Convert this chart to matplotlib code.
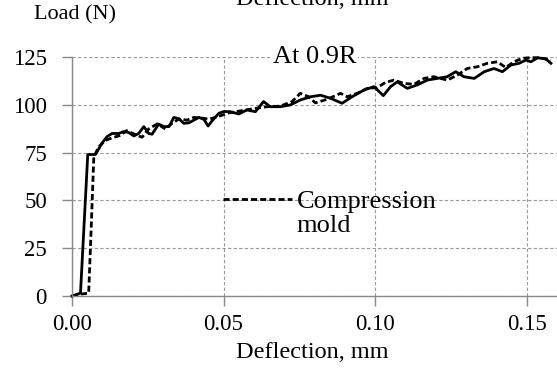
import matplotlib
matplotlib.use("Agg")
import matplotlib.pyplot as plt
from matplotlib.lines import Line2D

plt.rcParams['font.family'] = ['Liberation Serif', 'DejaVu Serif']

# solid curve (first specimen)
x_solid = [0, 0.0028, 0.0052, 0.0077, 0.0083, 0.0099, 0.0116, 0.0132, 0.0154, 0.0171,
           0.0187, 0.0204, 0.022, 0.0237, 0.0253, 0.0264, 0.0286, 0.0303, 0.032, 0.0336,
           0.0352, 0.0369, 0.0386, 0.0402, 0.0419, 0.0435, 0.0449, 0.0463, 0.0485, 0.0501,
           0.0522, 0.055, 0.0577, 0.0605, 0.0632, 0.0654, 0.0687, 0.072, 0.0753, 0.0787,
           0.082, 0.0853, 0.0891, 0.0924, 0.0963, 0.0996, 0.1027, 0.1051, 0.1073, 0.1106,
           0.1139, 0.1172, 0.1205, 0.1238, 0.1266, 0.1293, 0.1327, 0.136, 0.1392, 0.142,
           0.1448, 0.1475, 0.1497, 0.1514, 0.1536, 0.1563, 0.158]
y_solid = [0, 1.5, 74, 74, 75.5, 80, 83.4, 85, 85, 86,
           85.5, 83.7, 85, 88.6, 85, 84.6, 89.9, 88.6, 88.6, 93.4,
           92.8, 90.3, 90.6, 92, 93.4, 92.4, 88.9, 91.8, 95.6, 96.5,
           96.4, 95.2, 97.3, 96.4, 101.7, 99, 99, 99.9, 102.5, 104.2,
           105, 103.4, 100.8, 104.2, 107.7, 109.5, 104.8, 109.5, 112, 108.6,
           110.4, 112.9, 113.8, 114.7, 117.3, 114.7, 113.8, 117.3, 119, 117.3,
           120.8, 121.7, 123.4, 122.5, 124.6, 124, 121.7]

# dashed curve (compression mold)
x_dash = [0, 0.003, 0.0055, 0.0062, 0.0072, 0.0079, 0.0088, 0.011, 0.0138, 0.016,
          0.018, 0.0204, 0.0231, 0.0253, 0.0281, 0.0308, 0.033, 0.0352, 0.038, 0.0402,
          0.043, 0.0452, 0.0485, 0.0518, 0.0555, 0.06, 0.0643, 0.0687, 0.0726, 0.0753,
          0.0781, 0.0803, 0.0842, 0.0886, 0.0908, 0.0941, 0.0974, 0.1007, 0.1034, 0.1062,
          0.1095, 0.1128, 0.1161, 0.1194, 0.1238, 0.1271, 0.1304, 0.1337, 0.137, 0.1403,
          0.1431, 0.1458, 0.1486, 0.1514, 0.1547, 0.158]
y_dash = [0, 1, 1.5, 30, 73, 75, 78, 81.4, 83, 84,
          86.5, 84.8, 83, 87.4, 90, 87.4, 90.3, 92.5, 92, 93.4,
          93, 92.5, 94, 95.8, 96.8, 98, 99, 99.3, 101.7, 106,
          104.2, 101, 102.9, 106, 104.2, 106, 108.6, 109, 111.7, 112.9,
          111.2, 110.7, 113.8, 114.7, 112.9, 115.5, 119, 119.9, 121.7, 122.5,
          119.5, 122.5, 124.3, 124.7, 124.5, 123.3]

x_ticks = [0.00, 0.05, 0.10, 0.15]
x_ticklabels = ['0.00', '0.05', '0.10', '0.15']
y_ticks = [0, 25, 50, 75, 100, 125]

fig = plt.figure(figsize=(5.57, 3.72), dpi=100)
ax = fig.add_axes([72/557, 76/372, 485/557, 239/372])

ax.plot(x_solid, y_solid, color='black', lw=2.0, clip_on=False)
dash_line, = ax.plot(x_dash, y_dash, color='black', lw=2.0, dashes=(2.2, 1.1), clip_on=False)

ax.set_xlim(0, 0.16)
ax.set_ylim(0, 125)
ax.set_xticks(x_ticks)
ax.set_xticklabels(x_ticklabels)
ax.set_yticks(y_ticks)
ax.tick_params(axis='both', labelsize=16.5, color='#888888', width=1)
ax.tick_params(axis='y', length=7, pad=11)
ax.tick_params(axis='x', length=7, pad=6)

ax.grid(True, color='#999999', lw=0.8, linestyle=(0, (3, 2)))
for s in ['top', 'right']:
    ax.spines[s].set_visible(False)
for s in ['left', 'bottom']:
    ax.spines[s].set_color('#888888')
    ax.spines[s].set_linewidth(1)

ax.text(0.5, 1.0, 'At 0.9R', transform=ax.transAxes, ha='center', va='center',
        fontsize=19, bbox=dict(facecolor='white', edgecolor='none', pad=1))

blank = Line2D([], [], color='none')
ax.legend([dash_line, blank], ['Compression', 'mold'], loc='upper left',
          bbox_to_anchor=(223/557, 1 - 190/372), bbox_transform=fig.transFigure,
          frameon=False, fontsize=19, handlelength=2.6, handletextpad=0.2,
          labelspacing=0.0, borderpad=0, borderaxespad=0)

fig.text(34/557, 1 - 15/372, 'Load (N)', ha='left', va='center', fontsize=16)
fig.text(312/557, 1 - 353/372, 'Deflection, mm', ha='center', va='center', fontsize=17.5)
# top label cut off by the image edge
fig.text(312/557, 1 - 5/372, 'Deflection, mm', ha='center', va='baseline', fontsize=17.5)

fig.savefig('out.png', dpi=100)
